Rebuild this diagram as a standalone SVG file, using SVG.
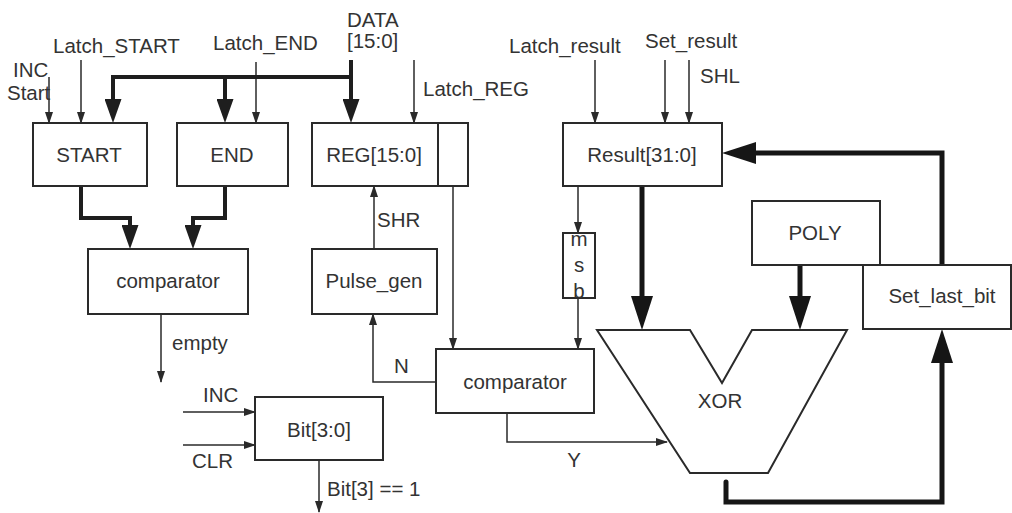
<svg xmlns="http://www.w3.org/2000/svg" width="1012" height="513" viewBox="0 0 1012 513">
<defs>
<style>
.box{fill:none;stroke:#2a2a2a;stroke-width:2}
.t{font-family:"Liberation Sans",Arial,sans-serif;font-size:20.5px;fill:#333}
.c{text-anchor:middle}
.thin{fill:none;stroke:#2a2a2a;stroke-width:1.5}
.thick{fill:none;stroke:#1e1e1e;stroke-width:4}
.big{fill:none;stroke:#161616;stroke-width:5}
</style>
<marker id="aThin" markerUnits="userSpaceOnUse" viewBox="0 0 12 8" markerWidth="12" markerHeight="8" refX="11" refY="4" orient="auto"><path d="M0,0 L12,4 L0,8 z" fill="#2a2a2a"/></marker>
<marker id="aThick" markerUnits="userSpaceOnUse" viewBox="0 0 24 17" markerWidth="24" markerHeight="17" refX="10" refY="8.5" orient="auto"><path d="M0,0 L24,8.5 L0,17 z" fill="#1e1e1e"/></marker>
<marker id="aBig" markerUnits="userSpaceOnUse" viewBox="0 0 34 22" markerWidth="34" markerHeight="22" refX="14" refY="11" orient="auto"><path d="M0,0 L34,11 L0,22 z" fill="#161616"/></marker>
</defs>
<rect width="1012" height="513" fill="#fff"/>

<g id="connectors">
<path class="thin" d="M49,77 V123" marker-end="url(#aThin)"/>
<path class="thin" d="M81,60 V123" marker-end="url(#aThin)"/>
<path class="thin" d="M256,62 V123" marker-end="url(#aThin)"/>
<path class="thin" d="M414,60 V123" marker-end="url(#aThin)"/>
<path class="thin" d="M595,60 V123" marker-end="url(#aThin)"/>
<path class="thin" d="M665,60 V123" marker-end="url(#aThin)"/>
<path class="thin" d="M689,60 V123" marker-end="url(#aThin)"/>
<path class="thin" d="M374,249 V186" marker-end="url(#aThin)"/>
<path class="thin" d="M453,186 V349" marker-end="url(#aThin)"/>
<path class="thin" d="M436,382 H373 V314" marker-end="url(#aThin)"/>
<path class="thin" d="M578,186 V233" marker-end="url(#aThin)"/>
<path class="thin" d="M578,298 V349" marker-end="url(#aThin)"/>
<path class="thin" d="M507,413 V442 H667" marker-end="url(#aThin)"/>
<path class="thin" d="M161,314 V382" marker-end="url(#aThin)"/>
<path class="thin" d="M183,412 H255" marker-end="url(#aThin)"/>
<path class="thin" d="M183,445 H255" marker-end="url(#aThin)"/>
<path class="thin" d="M319,460 V512" marker-end="url(#aThin)"/>

<path class="thick" d="M351,60 V109" marker-end="url(#aThick)"/>
<path class="thick" d="M351,77 H113 V109" marker-end="url(#aThick)"/>
<path class="thick" d="M225,77 V109" marker-end="url(#aThick)"/>
<path class="thick" d="M81,186 V218 H130 V235" marker-end="url(#aThick)"/>
<path class="thick" d="M225,186 V218 H193 V235" marker-end="url(#aThick)"/>

<path class="big" d="M642,186 V310" marker-end="url(#aBig)"/>
<path class="big" d="M800,265 V310" marker-end="url(#aBig)"/>
<path class="big" d="M942,265 V153 H742" marker-end="url(#aBig)"/>
<path class="big" d="M726,482 V502 H942 V349" stroke-linecap="round" stroke-linejoin="miter" marker-end="url(#aBig)"/>
</g>

<g id="labels">
<text class="t" x="13" y="77">INC</text>
<text class="t" x="7" y="100">Start</text>
<text class="t" x="53" y="53">Latch_START</text>
<text class="t" x="213" y="50">Latch_END</text>
<text class="t" x="347" y="27">DATA</text>
<text class="t" x="347" y="48">[15:0]</text>
<text class="t" x="423" y="96">Latch_REG</text>
<text class="t" x="509" y="53">Latch_result</text>
<text class="t" x="645" y="48">Set_result</text>
<text class="t" x="700" y="83">SHL</text>
<text class="t" x="377" y="227">SHR</text>
<text class="t" x="394" y="373">N</text>
<text class="t" x="172" y="350">empty</text>
<text class="t" x="203" y="402">INC</text>
<text class="t" x="192" y="468">CLR</text>
<text class="t" x="327" y="496">Bit[3] == 1</text>
<text class="t c" x="574" y="467">Y</text>
</g>

<g id="start"><rect class="box" x="33" y="123" width="114" height="63"/><text class="t c" x="89" y="162">START</text></g>
<g id="end"><rect class="box" x="177" y="123" width="111" height="63"/><text class="t c" x="232" y="162">END</text></g>
<g id="reg"><rect class="box" x="312" y="123" width="156" height="63"/><line class="box" x1="438" y1="123" x2="438" y2="186"/><text class="t c" x="374" y="162">REG[15:0]</text></g>
<g id="result"><rect class="box" x="563" y="123" width="159" height="63"/><text class="t c" x="642" y="162">Result[31:0]</text></g>
<g id="comparator1"><rect class="box" x="88" y="249" width="160" height="65"/><text class="t c" x="168" y="288">comparator</text></g>
<g id="pulse_gen"><rect class="box" x="312" y="249" width="125" height="65"/><text class="t c" x="374" y="288">Pulse_gen</text></g>
<g id="msb"><rect class="box" x="563" y="233" width="32" height="65"/><text class="t c" x="579" y="246">m</text><text class="t c" x="579" y="272">s</text><text class="t c" x="579" y="298">b</text></g>
<g id="comparator2"><rect class="box" x="436" y="349" width="158" height="64"/><text class="t c" x="515" y="389">comparator</text></g>
<g id="bit"><rect class="box" x="255" y="397" width="128" height="63"/><text class="t c" x="319" y="437">Bit[3:0]</text></g>
<g id="poly"><rect class="box" x="752" y="201" width="128" height="64"/><text class="t c" x="815" y="240">POLY</text></g>
<g id="set_last_bit"><rect class="box" x="863" y="265" width="148" height="64"/><text class="t c" x="942" y="303">Set_last_bit</text></g>
<g id="xor"><path class="box" d="M597,330 H690 L722,383 L752,330 H847 L768,473 H690 Z"/><text class="t c" x="720" y="408">XOR</text></g>
</svg>
